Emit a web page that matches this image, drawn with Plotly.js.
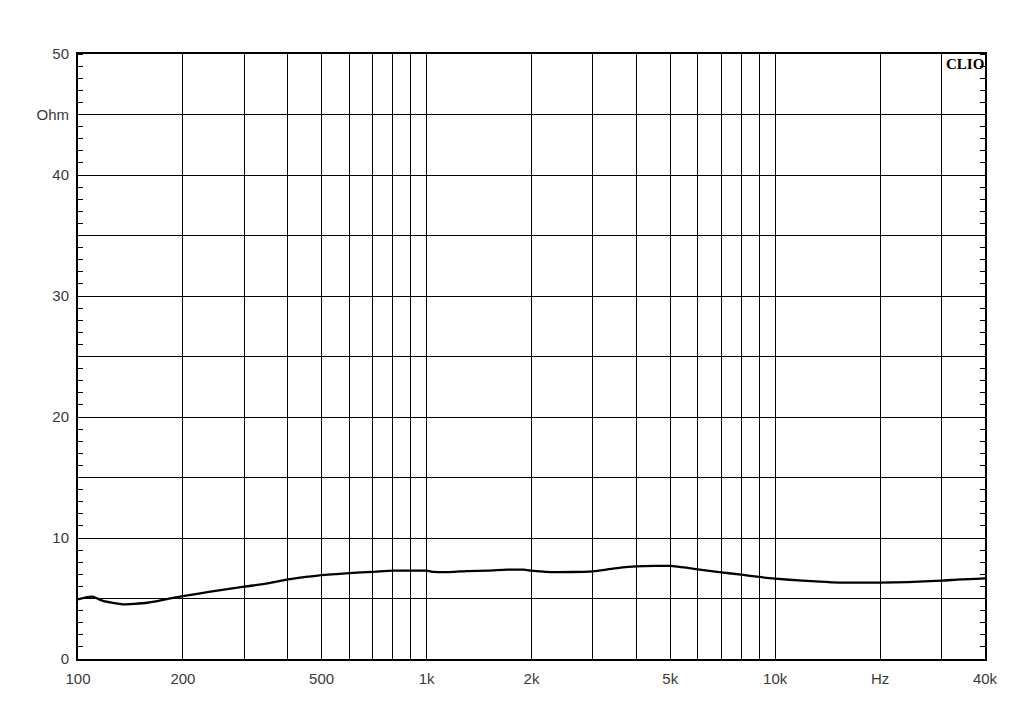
<!DOCTYPE html>
<html>
<head>
<meta charset="utf-8">
<script src="https://cdn.plot.ly/plotly-3.0.1.min.js"></script>
<style>html,body{margin:0;padding:0;background:#fff;}#chart{width:1024px;height:716px;}</style>
</head>
<body>
<div id="chart"></div>
<script>
const freq = [100, 105, 110, 118, 127, 134, 145, 158, 180, 200, 240, 300, 350, 400, 450, 500, 550, 600, 700, 800, 900, 1000, 1050, 1200, 1300, 1500, 1700, 1900, 2000, 2200, 2600, 3000, 3300, 3600, 4000, 4500, 5000, 6000, 7000, 8000, 9000, 10000, 12000, 14500, 17000, 20000, 24000, 30000, 34000, 40000];
const impedance = [4.93, 5.08, 5.15, 4.8, 4.62, 4.52, 4.56, 4.65, 4.95, 5.2, 5.56, 5.98, 6.25, 6.58, 6.78, 6.94, 7.02, 7.1, 7.2, 7.3, 7.3, 7.3, 7.2, 7.2, 7.27, 7.3, 7.38, 7.38, 7.3, 7.2, 7.19, 7.25, 7.4, 7.55, 7.65, 7.69, 7.69, 7.41, 7.16, 6.97, 6.78, 6.64, 6.47, 6.34, 6.31, 6.31, 6.36, 6.47, 6.58, 6.67];

const xTickVals = [100, 200, 300, 400, 500, 600, 700, 800, 900, 1000, 2000, 3000, 4000, 5000, 6000, 7000, 8000, 9000, 10000, 20000, 30000, 40000];
const xTickText = ["100", "200", "", "", "500", "", "", "", "", "1k", "2k", "", "", "5k", "", "", "", "", "10k", "Hz", "", "40k"];
const yTickVals = [0, 5, 10, 15, 20, 25, 30, 35, 40, 45, 50];
const yTickText = ["0", "", "10", "", "20", "", "30", "", "40", "Ohm", "50"];

const tickFont = {family: "Liberation Sans, Arial, sans-serif", size: 15, color: "#3a3a3a"};

const data = [{
  x: freq, y: impedance, type: "scatter", mode: "lines",
  line: {color: "#000", width: 2.3, shape: "spline", smoothing: 0.6},
  hoverinfo: "skip"
}];

const layout = {
  width: 1024, height: 716,
  margin: {l: 78, r: 39, t: 54, b: 57},
  paper_bgcolor: "#fff", plot_bgcolor: "#fff",
  showlegend: false,
  xaxis: {
    type: "log", range: [2, Math.log10(40000)],
    tickmode: "array", tickvals: xTickVals, ticktext: xTickText,
    showgrid: true, gridcolor: "#000", gridwidth: 1,
    showline: true, linecolor: "#000", linewidth: 2, mirror: true,
    ticks: "", ticklabelstandoff: 5,
    tickfont: tickFont, zeroline: false
  },
  yaxis: {
    range: [0, 50],
    tickmode: "array", tickvals: yTickVals, ticktext: yTickText,
    showgrid: true, gridcolor: "#000", gridwidth: 1,
    showline: true, linecolor: "#000", linewidth: 2, mirror: "allticks",
    ticks: "", ticklabelstandoff: 4,
    minor: {dtick: 1, ticks: "inside", ticklen: 5, tickcolor: "#000", tickwidth: 1, showgrid: false},
    tickfont: tickFont, zeroline: false
  },
  annotations: [{
    text: "CLIO", xref: "paper", yref: "paper", x: 1, y: 1,
    xanchor: "right", yanchor: "top", showarrow: false,
    font: {family: "Liberation Serif, Times New Roman, serif", size: 15, color: "#000", weight: "bold"},
    xshift: 1, yshift: 0
  }]
};

Plotly.newPlot("chart", data, layout, {displayModeBar: false, staticPlot: true});
</script>
</body>
</html>
